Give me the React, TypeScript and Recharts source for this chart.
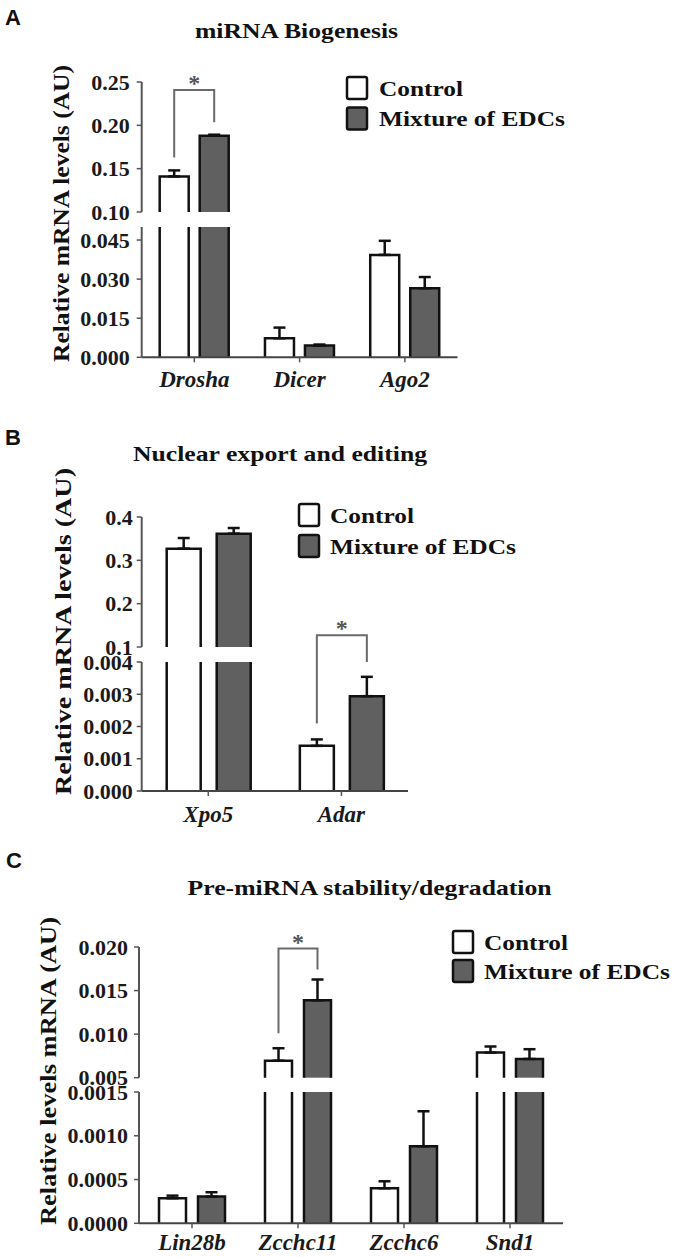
import React from "react";
import { BarChart, Bar, XAxis, YAxis, ErrorBar, LabelList } from "recharts";

const FONT = "'Liberation Serif', 'Times New Roman', serif";
const SANS = "'Liberation Sans', Arial, sans-serif";

const seriesNames = ["Control", "Mixture of EDCs"];
const seriesFills = ["#ffffff", "#606060"];

// panel A - miRNA biogenesis
const genesA = ["Drosha", "Dicer", "Ago2"];
const controlA = [0.141, 0.0073, 0.0393];
const controlErrA = [0.007, 0.0041, 0.0054];
const edcA = [0.188, 0.0045, 0.0265];
const edcErrA = [0.0012, 0.0004, 0.0043];
const upperTicksA = [0.1, 0.15, 0.2, 0.25];
const lowerTicksA = [0, 0.015, 0.03, 0.045];
const sigA = { gene: "Drosha", top: 0.2407, left: 0.163, right: 0.2035 };

// panel B - nuclear export and editing
const genesB = ["Xpo5", "Adar"];
const controlB = [0.327, 0.0014];
const controlErrB = [0.0245, 0.0002];
const edcB = [0.3616, 0.00294];
const edcErrB = [0.013, 0.0006];
const upperTicksB = [0.1, 0.2, 0.3, 0.4];
const lowerTicksB = [0, 0.001, 0.002, 0.003, 0.004];
const sigB = { gene: "Adar", top: 0.00483, left: 0.00209, right: 0.004 };

// panel C - pre-miRNA stability/degradation
const genesC = ["Lin28b", "Zcchc11", "Zcchc6", "Snd1"];
const controlC = [0.000286, 0.00695, 0.0004, 0.00788];
const controlErrC = [0.00003, 0.00143, 0.00008, 0.0007];
const edcC = [0.000305, 0.01388, 0.00088, 0.00715];
const edcErrC = [0.00005, 0.00239, 0.0004, 0.00112];
const upperTicksC = [0.005, 0.01, 0.015, 0.02];
const lowerTicksC = [0, 0.0005, 0.001, 0.0015];
const sigC = { gene: "Zcchc11", top: 0.01982, left: 0.0101, right: 0.01743 };

type Sig = { gene: string; top: number; left: number; right: number };

// split values into the part shown above / below the axis break
function buildRows(
  genes: string[],
  ctl: number[],
  ctlErr: number[],
  edc: number[],
  edcErr: number[],
  domain: number[],
  part: "upper" | "lower"
) {
  const [lo, hi] = domain;
  const cell = (v: number, e: number) => {
    if (part === "upper") {
      if (v <= lo) return { v: null, e: null, cut: false };
      return { v, e: [0, e], cut: false };
    }
    const cut = v > hi;
    return { v: Math.min(v, hi), e: cut ? null : [0, e], cut };
  };
  return genes.map((g, i) => {
    const c = cell(ctl[i], ctlErr[i]);
    const m = cell(edc[i], edcErr[i]);
    return {
      gene: g,
      control: c.v,
      controlErr: c.e,
      controlCut: c.cut,
      edc: m.v,
      edcErr: m.e,
      edcCut: m.cut,
    };
  });
}

const openBar = (cutKey: string) => (props: any) => {
  const { x, y, width, height, fill, payload } = props;
  if (height == null || !isFinite(height) || height <= 0.5) return <g />;
  const cut = payload && payload[cutKey];
  const d = cut
    ? `M${x},${y + height}L${x},${y}M${x + width},${y}L${x + width},${y + height}`
    : `M${x},${y + height}L${x},${y}L${x + width},${y}L${x + width},${y + height}`;
  return (
    <g>
      <rect x={x} y={y} width={width} height={height} fill={fill} />
      <path d={d} fill="none" stroke="#111" strokeWidth={2.5} />
    </g>
  );
};

function bracketContent(rows: any[], sig: Sig, base: number, barGap: number) {
  const row = rows.find((r) => r.gene === sig.gene);
  return (lp: any) => {
    if (!row || row.control == null) return null;
    const val = Array.isArray(lp.value) ? lp.value[1] : lp.value;
    if (val == null || Math.abs(Number(val) - row.control) > 1e-12) return null;
    const vb = lp.viewBox && lp.viewBox.width != null ? lp.viewBox : lp;
    const { x, y, width: w, height: h } = vb;
    const v = row.control as number;
    const per = h / (v - base);
    const bottom = y + h;
    const yOf = (t: number) => bottom - (t - base) * per;
    const lx = x + w / 2;
    const rx = x + w * 1.5 + barGap;
    const ty = yOf(sig.top);
    return (
      <g key="sig">
        <path
          d={`M${lx},${yOf(sig.left)}L${lx},${ty}L${rx},${ty}L${rx},${yOf(sig.right)}`}
          fill="none"
          stroke="#6a6a6a"
          strokeWidth={2}
        />
        <text x={(lx + rx) / 2} y={ty + 1} textAnchor="middle" fontFamily={FONT} fontWeight={700} fontSize={24} fill="#555">
          *
        </text>
      </g>
    );
  };
}

const YTick = (dec: number) => (props: any) => {
  const { x, y, payload } = props;
  return (
    <text x={x} y={y} dy="0.35em" textAnchor="end" fontFamily={FONT} fontWeight={700} fontSize={22} fill="#1a1a1a">
      {Number(payload.value).toFixed(dec)}
    </text>
  );
};

const XTick = (props: any) => {
  const { x, y, payload } = props;
  return (
    <text
      x={x}
      y={y}
      dy="0.71em"
      textAnchor="middle"
      fontFamily={FONT}
      fontWeight={700}
      fontStyle="italic"
      fontSize={23}
      fill="#1a1a1a"
    >
      {payload.value}
    </text>
  );
};

type SegProps = {
  rows: any[];
  domain: number[];
  ticks: number[];
  decimals: number;
  axisX: number;
  plotRight: number;
  plotTop: number;
  plotBottom: number;
  padTop: number;
  showX: boolean;
  barSize: number;
  barGap: number;
  tickMargin: number;
  xTickMargin?: number;
  sig?: Sig;
};

function Segment(p: SegProps) {
  const xH = p.showX ? 50 : 0;
  const padBottom = p.showX ? 0 : 16;
  const plotH = p.plotBottom - p.plotTop;
  const height = p.padTop + plotH + xH + padBottom;
  const width = p.plotRight + 12;
  return (
    <div style={{ position: "absolute", left: 0, top: p.plotTop - p.padTop, fontFamily: FONT, fontWeight: 700 }}>
      <BarChart
        width={width}
        height={height}
        data={p.rows}
        margin={{ top: p.padTop, right: 12, bottom: padBottom, left: 0 }}
        barSize={p.barSize}
        barGap={p.barGap}
      >
        <XAxis
          dataKey="gene"
          hide={!p.showX}
          height={xH}
          interval={0}
          axisLine={{ stroke: "#444", strokeWidth: 2 }}
          tickLine={{ stroke: "#555", strokeWidth: 1.5 }}
          tickSize={5}
          tickMargin={p.xTickMargin ?? 8}
          tick={XTick}
        />
        <YAxis
          type="number"
          domain={p.domain}
          ticks={p.ticks}
          interval={0}
          width={p.axisX}
          axisLine={{ stroke: "#555", strokeWidth: 2 }}
          tickLine={{ stroke: "#555", strokeWidth: 1.5 }}
          tickSize={5}
          tickMargin={p.tickMargin}
          tick={YTick(p.decimals)}
        />
        <Bar dataKey="control" name={seriesNames[0]} fill={seriesFills[0]} shape={openBar("controlCut")} isAnimationActive={false}>
          <ErrorBar dataKey="controlErr" width={6} stroke="#111" strokeWidth={2.5} direction="y" />
          {p.sig && (
            <LabelList dataKey="control" content={bracketContent(p.rows, p.sig, p.domain[0], p.barGap)} />
          )}
        </Bar>
        <Bar dataKey="edc" name={seriesNames[1]} fill={seriesFills[1]} shape={openBar("edcCut")} isAnimationActive={false}>
          <ErrorBar dataKey="edcErr" width={6} stroke="#111" strokeWidth={2.5} direction="y" />
        </Bar>
      </BarChart>
    </div>
  );
}

type PanelProps = {
  genes: string[];
  ctl: number[];
  ctlErr: number[];
  edc: number[];
  edcErr: number[];
  upperDomain: number[];
  lowerDomain: number[];
  upperTicks: number[];
  lowerTicks: number[];
  upperDec: number;
  lowerDec: number;
  axisX: number;
  plotRight: number;
  upper: number[];
  lower: number[];
  barSize: number;
  barGap: number;
  tickMargin: number;
  xTickMargin: number;
  sig: Sig;
  sigPart: "upper" | "lower";
  lowerPad: number;
};

function Panel(p: PanelProps) {
  const up = buildRows(p.genes, p.ctl, p.ctlErr, p.edc, p.edcErr, p.upperDomain, "upper");
  const low = buildRows(p.genes, p.ctl, p.ctlErr, p.edc, p.edcErr, p.lowerDomain, "lower");
  const common = {
    axisX: p.axisX,
    plotRight: p.plotRight,
    barSize: p.barSize,
    barGap: p.barGap,
    tickMargin: p.tickMargin,
  };
  return (
    <>
      <Segment
        {...common}
        rows={up}
        domain={p.upperDomain}
        ticks={p.upperTicks}
        decimals={p.upperDec}
        plotTop={p.upper[0]}
        plotBottom={p.upper[1]}
        padTop={40}
        showX={false}
        sig={p.sigPart === "upper" ? p.sig : undefined}
      />
      <Segment
        {...common}
        rows={low}
        domain={p.lowerDomain}
        ticks={p.lowerTicks}
        decimals={p.lowerDec}
        plotTop={p.lower[0]}
        plotBottom={p.lower[1]}
        padTop={p.lowerPad}
        showX={true}
        xTickMargin={p.xTickMargin}
        sig={p.sigPart === "lower" ? p.sig : undefined}
      />
    </>
  );
}

function LegendBox({ x, y1, y2, tx }: { x: number; y1: number; y2: number; tx: number }) {
  const ys = [y1, y2];
  const lens = [84, 186];
  return (
    <g>
      {seriesNames.map((n, i) => (
        <g key={n}>
          <rect x={x} y={ys[i] - 11} width={20} height={22} rx={2} fill={seriesFills[i]} stroke="#111" strokeWidth={2.5} />
          <text
            x={tx}
            y={ys[i] + 7.5}
            fontFamily={FONT}
            fontWeight={700}
            fontSize={22}
            fill="#111"
            textLength={lens[i]}
            lengthAdjust="spacingAndGlyphs"
          >
            {n}
          </text>
        </g>
      ))}
    </g>
  );
}

function Overlay() {
  const title = { fontFamily: FONT, fontWeight: 700, fontSize: 22, fill: "#111" } as const;
  const yTitle = (x: number, y: number, txt: string, len: number) => (
    <text
      x={x}
      y={y}
      transform={`rotate(-90 ${x} ${y})`}
      textAnchor="middle"
      dominantBaseline="central"
      textLength={len}
      lengthAdjust="spacingAndGlyphs"
      {...title}
      fontSize={23}
    >
      {txt}
    </text>
  );
  return (
    <svg
      width={675}
      height={1257}
      style={{ position: "absolute", left: 0, top: 0, pointerEvents: "none" }}
    >
      <text x={5} y={25} fontFamily={SANS} fontWeight={700} fontSize={22} fill="#111">A</text>
      <text x={5} y={445} fontFamily={SANS} fontWeight={700} fontSize={22} fill="#111">B</text>
      <text x={6} y={868} fontFamily={SANS} fontWeight={700} fontSize={22} fill="#111">C</text>

      <text x={296.5} y={38} textAnchor="middle" textLength={203} lengthAdjust="spacingAndGlyphs" {...title}>
        miRNA Biogenesis
      </text>
      <text x={280} y={461} textAnchor="middle" textLength={294} lengthAdjust="spacingAndGlyphs" {...title}>
        Nuclear export and editing
      </text>
      <text x={369.6} y={895} textAnchor="middle" textLength={364} lengthAdjust="spacingAndGlyphs" {...title}>
        Pre-miRNA stability/degradation
      </text>

      {yTitle(61, 213.5, "Relative mRNA levels (AU)", 297)}
      {yTitle(63, 631.5, "Relative mRNA levels (AU)", 327)}
      {yTitle(48, 1071, "Relative levels mRNA (AU)", 308)}

      <LegendBox x={347} y1={88} y2={118.5} tx={379} />
      <LegendBox x={299} y1={515} y2={546} tx={330} />
      <LegendBox x={453} y1={942} y2={971} tx={484} />
    </svg>
  );
}

export default function App() {
  return (
    <div style={{ position: "absolute", left: 0, top: 0, width: 675, height: 1257, background: "#fff" }}>
      <Panel
        genes={genesA}
        ctl={controlA}
        ctlErr={controlErrA}
        edc={edcA}
        edcErr={edcErrA}
        upperDomain={[0.1, 0.25]}
        lowerDomain={[0, 0.05]}
        upperTicks={upperTicksA}
        lowerTicks={lowerTicksA}
        upperDec={2}
        lowerDec={3}
        axisX={141.7}
        plotRight={457.5}
        upper={[82, 212]}
        lower={[227, 357.3]}
        barSize={29}
        barGap={11}
        tickMargin={7}
        xTickMargin={8}
        sig={sigA}
        sigPart="upper"
        lowerPad={20}
      />
      <Panel
        genes={genesB}
        ctl={controlB}
        ctlErr={controlErrB}
        edc={edcB}
        edcErr={edcErrB}
        upperDomain={[0.1, 0.4]}
        lowerDomain={[0, 0.004]}
        upperTicks={upperTicksB}
        lowerTicks={lowerTicksB}
        upperDec={1}
        lowerDec={3}
        axisX={141.7}
        plotRight={408}
        upper={[516.7, 646.7]}
        lower={[661.7, 790.7]}
        barSize={34}
        barGap={16}
        tickMargin={4}
        xTickMargin={10}
        sig={sigB}
        sigPart="lower"
        lowerPad={70}
      />
      <Panel
        genes={genesC}
        ctl={controlC}
        ctlErr={controlErrC}
        edc={edcC}
        edcErr={edcErrC}
        upperDomain={[0.005, 0.02]}
        lowerDomain={[0, 0.0015]}
        upperTicks={upperTicksC}
        lowerTicks={lowerTicksC}
        upperDec={3}
        lowerDec={4}
        axisX={139}
        plotRight={563}
        upper={[946.5, 1077.2]}
        lower={[1091.7, 1223]}
        barSize={27}
        barGap={12}
        tickMargin={6}
        xTickMargin={5}
        sig={sigC}
        sigPart="upper"
        lowerPad={20}
      />
      <Overlay />
    </div>
  );
}
